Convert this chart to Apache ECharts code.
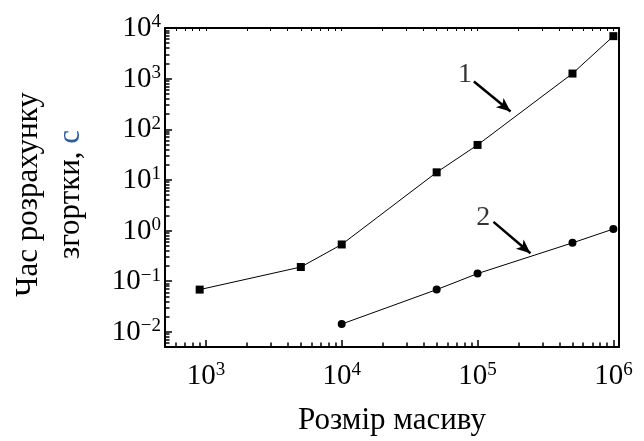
<!DOCTYPE html>
<html>
<head>
<meta charset="utf-8">
<script src="https://cdn.jsdelivr.net/npm/echarts@6/dist/echarts.min.js"></script>
<style>html,body{margin:0;padding:0;background:#fff}#c{width:644px;height:441px}</style>
</head>
<body>
<div id="c"></div>
<script>
// ---- data ----
const xMajorTicks = [1e3, 1e4, 1e5, 1e6];
const yMajorTicks = [1e-2, 1e-1, 1e0, 1e1, 1e2, 1e3, 1e4];
const xMinorTicks = [600, 700, 800, 900,
  2e3, 3e3, 4e3, 5e3, 6e3, 7e3, 8e3, 9e3,
  2e4, 3e4, 4e4, 5e4, 6e4, 7e4, 8e4, 9e4,
  2e5, 3e5, 4e5, 5e5, 6e5, 7e5, 8e5, 9e5];
const yMinorTicks = [6e-3, 7e-3, 8e-3, 9e-3,
  2e-2, 3e-2, 4e-2, 5e-2, 6e-2, 7e-2, 8e-2, 9e-2,
  0.2, 0.3, 0.4, 0.5, 0.6, 0.7, 0.8, 0.9,
  2, 3, 4, 5, 6, 7, 8, 9,
  20, 30, 40, 50, 60, 70, 80, 90,
  200, 300, 400, 500, 600, 700, 800, 900,
  2000, 3000, 4000, 5000, 6000, 7000, 8000, 9000];
const series1X = [900, 5000, 1e4, 5e4, 1e5, 5e5, 1e6];
const series1Y = [0.068, 0.19, 0.53, 14.1, 49, 1260, 6900];
const series2X = [1e4, 5e4, 1e5, 5e5, 1e6];
const series2Y = [0.0142, 0.068, 0.141, 0.57, 1.07];
const annotLabels = ['1', '2'];
const annotTextPos = [[8.1e4, 1180], [1.1e5, 1.79]];
const arrowStart = [[9.4e4, 877], [1.31e5, 1.48]];
const arrowEnd = [[1.75e5, 224], [2.45e5, 0.356]];
const xName = 'Розмір масиву';
const yNameLine1 = 'Час розрахунку';
const yNameLine2 = 'згортки, ';
const yNameUnit = 'с';

const FONT = "'Liberation Serif', 'Times New Roman', serif";
function pow10Label(v) {
  const e = Math.round(Math.log10(v));
  return '{b|10}{s|' + (e < 0 ? '\u2212' + (-e) : String(e)) + '}';
}
const labelRich = {
  b: { fontSize: 29, fontFamily: FONT, color: '#000', verticalAlign: 'bottom', lineHeight: 30 },
  s: { fontSize: 19, fontFamily: FONT, color: '#000', verticalAlign: 'top', lineHeight: 16 }
};
const XMIN = 500, XMAX = 1.1e6, YMIN = 0.005, YMAX = 1e4;
const lineStyleAxis = { color: '#000', width: 2 };

function zip(a, b) { return a.map((v, i) => [v, b[i]]); }

const chart = echarts.init(document.getElementById('c'), null, { renderer: 'canvas' });
chart.setOption({
  animation: false,
  backgroundColor: '#fff',
  grid: { left: 165, right: 25, top: 28, bottom: 83, containLabel: false },
  xAxis: [
    {
      type: 'log', logBase: 10, min: XMIN, max: XMAX, position: 'bottom',
      name: xName, nameLocation: 'middle', nameGap: 58,
      nameTextStyle: { fontSize: 31, fontFamily: FONT, color: '#000' },
      axisLine: { show: true, lineStyle: lineStyleAxis },
      axisTick: { show: true, inside: true, length: 7, lineStyle: { color: '#000', width: 1.5 }, customValues: xMajorTicks },
      axisLabel: { show: true, margin: 14, formatter: pow10Label, rich: labelRich, customValues: xMajorTicks },
      splitLine: { show: false }
    },
    {
      type: 'log', logBase: 10, min: XMIN, max: XMAX, position: 'bottom',
      axisLine: { show: false },
      axisTick: { show: true, inside: true, length: 4.5, lineStyle: { color: '#000', width: 1.5 }, customValues: xMinorTicks },
      axisLabel: { show: false }, splitLine: { show: false }
    },
    {
      type: 'log', logBase: 10, min: XMIN, max: XMAX, position: 'top',
      axisLine: { show: true, lineStyle: lineStyleAxis },
      axisTick: { show: true, inside: true, length: 3, lineStyle: { color: '#000', width: 1 }, customValues: xMajorTicks.concat(xMinorTicks) },
      axisLabel: { show: false }, splitLine: { show: false }
    }
  ],
  yAxis: [
    {
      type: 'log', logBase: 10, min: YMIN, max: YMAX, position: 'left',
      name: yNameLine1 + '\n' + yNameLine2 + '{u|' + yNameUnit + '}',
      nameLocation: 'middle', nameGap: 73, nameRotate: 90,
      nameTextStyle: {
        fontSize: 31, fontFamily: FONT, color: '#000', lineHeight: 42, padding: [0, 14, 0, 0],
        rich: { u: { fontSize: 31, fontFamily: FONT, color: '#2f5c9c', lineHeight: 42 } }
      },
      axisLine: { show: true, lineStyle: lineStyleAxis },
      axisTick: { show: true, inside: true, length: 7, lineStyle: { color: '#000', width: 1.5 }, customValues: yMajorTicks },
      axisLabel: { show: true, margin: 4, formatter: pow10Label, rich: labelRich, customValues: yMajorTicks },
      splitLine: { show: false }
    },
    {
      type: 'log', logBase: 10, min: YMIN, max: YMAX, position: 'left',
      axisLine: { show: false },
      axisTick: { show: true, inside: true, length: 4.5, lineStyle: { color: '#000', width: 1.5 }, customValues: yMinorTicks },
      axisLabel: { show: false }, splitLine: { show: false }
    },
    {
      type: 'log', logBase: 10, min: YMIN, max: YMAX, position: 'right',
      axisLine: { show: true, lineStyle: lineStyleAxis },
      axisTick: { show: false }, axisLabel: { show: false }, splitLine: { show: false }
    }
  ],
  series: [
    {
      type: 'line', xAxisIndex: 0, yAxisIndex: 0,
      data: zip(series1X, series1Y),
      symbol: 'rect', symbolSize: 8,
      lineStyle: { color: '#000', width: 1 },
      itemStyle: { color: '#000' },
      markLine: {
        silent: true, animation: false,
        lineStyle: { color: '#000', width: 2.5, type: 'solid' },
        label: { show: false },
        data: arrowStart.map((s, i) => [
          { coord: s, symbol: 'none' },
          { coord: arrowEnd[i], symbol: 'arrow', symbolSize: [9, 14] }
        ])
      }
    },
    {
      type: 'line', xAxisIndex: 0, yAxisIndex: 0,
      data: zip(series2X, series2Y),
      symbol: 'circle', symbolSize: 8,
      lineStyle: { color: '#000', width: 1 },
      itemStyle: { color: '#000' }
    },
    {
      type: 'scatter', xAxisIndex: 0, yAxisIndex: 0,
      data: annotTextPos.map((p, i) => ({ value: p, name: annotLabels[i] })),
      symbolSize: 0, silent: true,
      label: { show: true, position: 'inside', formatter: '{b}', fontSize: 28, fontFamily: FONT, color: '#000' }
    }
  ]
});
</script>
</body>
</html>
